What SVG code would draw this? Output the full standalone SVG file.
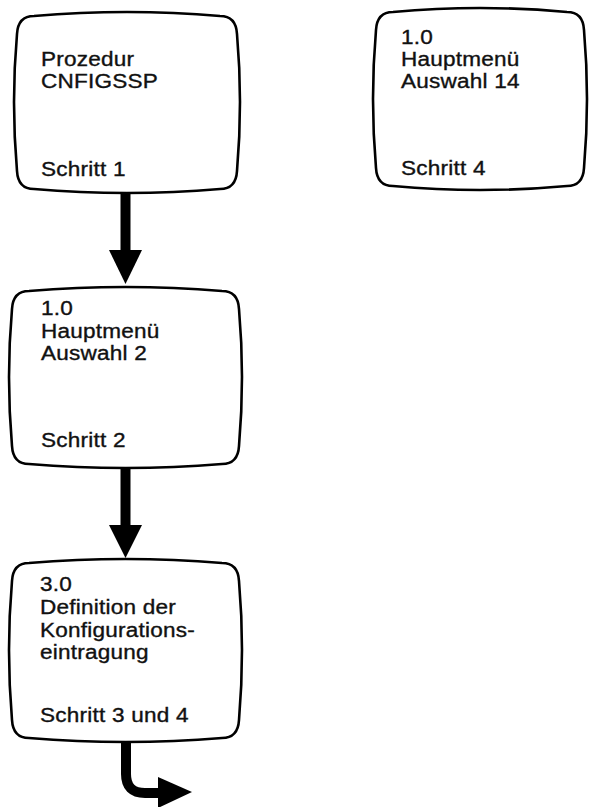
<svg xmlns="http://www.w3.org/2000/svg" width="591" height="807" viewBox="0 0 591 807">
<style>
.box{fill:#fff;stroke:#000;stroke-width:2.6;stroke-linejoin:round}
.t{font-family:"Liberation Sans",Arial,Helvetica,sans-serif;font-size:19.6px;letter-spacing:0.2px;fill:#111;stroke:#111;stroke-width:0.35}
.shaft{fill:none;stroke:#000;stroke-width:10}
.head{fill:#000}
</style>
<rect width="591" height="807" fill="#fff"/>
<g id="connectors">
<line class="shaft" x1="125.5" y1="193" x2="125.5" y2="252"/>
<polygon class="head" points="109,250 142,250 125.5,284"/>
<line class="shaft" x1="125.5" y1="468" x2="125.5" y2="527"/>
<polygon class="head" points="109,525 142,525 125.5,558"/>
<path class="shaft" d="M126 742 V774 Q126 793 145 793 H161"/>
<polygon class="head" points="158,777 192,792 158,808"/>
</g>
<g id="n1">
<path class="box" d="M34 16 Q127 8 220 16 Q236 16 237 34 Q243 102 237 171 Q236 189 220 189 Q127 197 34 189 Q18 189 17 171 Q11 102 17 34 Q18 16 34 16 Z"/>
<g transform="translate(41 0) scale(1.15 1)">
<text class="t" x="0" y="66">Prozedur</text>
<text class="t" x="0" y="88">CNFIGSSP</text>
<text class="t" x="0" y="176">Schritt 1</text>
</g>
</g>
<g id="n2">
<path class="box" d="M393 12 Q480 4 567 12 Q583 12 584 30 Q590 99 584 168 Q583 186 567 186 Q480 194 393 186 Q377 186 376 168 Q370 99 376 30 Q377 12 393 12 Z"/>
<g transform="translate(401 0) scale(1.15 1)">
<text class="t" x="0" y="44">1.0</text>
<text class="t" x="0" y="66">Hauptmenü</text>
<text class="t" x="0" y="88">Auswahl 14</text>
<text class="t" x="0" y="175">Schritt 4</text>
</g>
</g>
<g id="n3">
<path class="box" d="M29 291 Q125.5 283 222 291 Q238 291 239 309 Q245 377 239 446 Q238 464 222 464 Q125.5 472 29 464 Q13 464 12 446 Q6 377 12 309 Q13 291 29 291 Z"/>
<g transform="translate(41 0) scale(1.15 1)">
<text class="t" x="0" y="315">1.0</text>
<text class="t" x="0" y="338">Hauptmenü</text>
<text class="t" x="0" y="360">Auswahl 2</text>
<text class="t" x="0" y="447">Schritt 2</text>
</g>
</g>
<g id="n4">
<path class="box" d="M29 563 Q125.5 555 222 563 Q238 563 239 581 Q245 650 239 720 Q238 738 222 738 Q125.5 746 29 738 Q13 738 12 720 Q6 650 12 581 Q13 563 29 563 Z"/>
<g transform="translate(40 0) scale(1.15 1)">
<text class="t" x="0" y="591">3.0</text>
<text class="t" x="0" y="614">Definition der</text>
<text class="t" x="0" y="637">Konfigurations-</text>
<text class="t" x="0" y="659">eintragung</text>
<text class="t" x="0" y="722">Schritt 3 und 4</text>
</g>
</g>
</svg>
